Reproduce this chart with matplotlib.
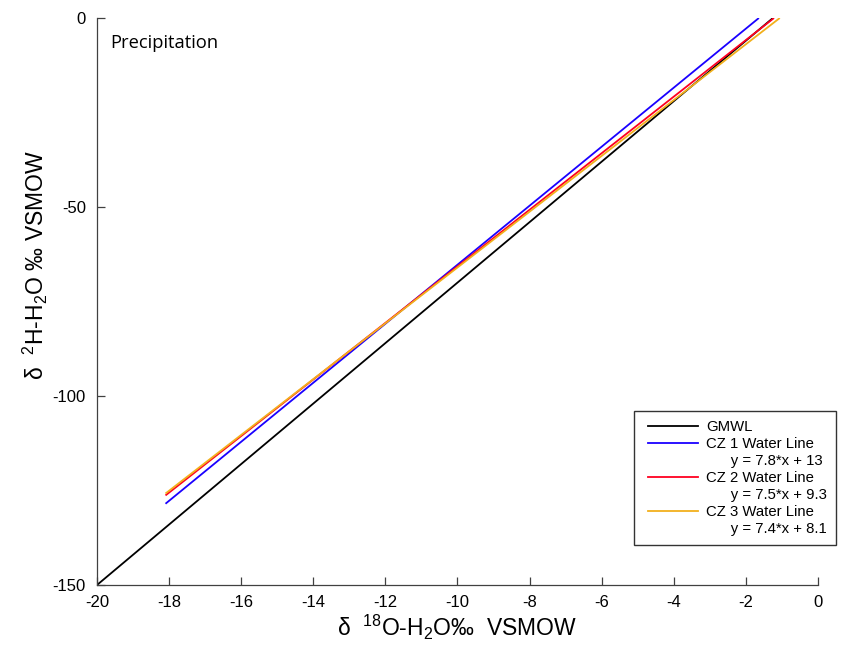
import matplotlib
matplotlib.use("Agg")
import matplotlib.pyplot as plt
from matplotlib.lines import Line2D
from matplotlib.legend_handler import HandlerLine2D

plt.rcParams['font.family'] = ['Liberation Sans', 'DejaVu Sans']
plt.rcParams['mathtext.fontset'] = 'custom'
plt.rcParams['mathtext.rm'] = 'Liberation Sans'
plt.rcParams['mathtext.it'] = 'Liberation Sans'

# Line endpoints
gmwl_x = [-20.0, -1.25]
gmwl_y = [-150.0, 0.0]
cz1_x = [-18.1, -1.64]
cz1_y = [-128.5, 0.0]
cz2_x = [-18.1, -1.22]
cz2_y = [-126.3, 0.0]
cz3_x = [-18.1, -1.06]
cz3_y = [-125.8, 0.0]

series_names = ["GMWL", "CZ 1 Water Line", "CZ 2 Water Line", "CZ 3 Water Line"]
equations = [None, "y = 7.8*x + 13", "y = 7.5*x + 9.3", "y = 7.4*x + 8.1"]
colors = ["black", "#1a00ff", "#ff0020", "#f2b01c"]

x_ticks = [-20, -18, -16, -14, -12, -10, -8, -6, -4, -2, 0]
y_ticks = [-150, -100, -50, 0]

fig = plt.figure(figsize=(8.41, 6.54), dpi=100)
ax = fig.add_axes([97/841, 1-585/654, (818-97)/841, (585-18)/654])

xs = [gmwl_x, cz1_x, cz2_x, cz3_x]
ys = [gmwl_y, cz1_y, cz2_y, cz3_y]
for x, y, c in zip(xs, ys, colors):
    ax.plot(x, y, color=c, lw=1.3, solid_capstyle='butt')

ax.set_xlim(-20, 0)
ax.set_ylim(-150, 0)
ax.set_xticks(x_ticks)
ax.set_yticks(y_ticks)
ax.set_xticklabels([str(t) for t in x_ticks])
ax.set_yticklabels([str(t) for t in y_ticks])
for s in ['top', 'right']:
    ax.spines[s].set_visible(False)
for s in ['left', 'bottom']:
    ax.spines[s].set_color('#404040')
    ax.spines[s].set_linewidth(0.9)
ax.tick_params(direction='in', length=6, width=0.9, color='#404040',
               labelsize=12, pad=8)
ax.tick_params(axis='x', pad=7)

ax.set_xlabel(r'$\delta$  $^{18}$O-H$_2$O‰  VSMOW', fontsize=16.5)
ax.xaxis.set_label_coords(0.5, -0.05)
ax.set_ylabel(r'$\delta$  $^{2}$H-H$_2$O ‰ VSMOW', fontsize=16.5)
ax.yaxis.set_label_coords(-0.065, 0.564)

ax.text(110/841, 1-43/654, "Precipitation", transform=fig.transFigure,
        fontsize=13.2, va='center', ha='left', family=['Open Sans', 'DejaVu Sans'])

handles = []
labels = []
for name, eq, c in zip(series_names, equations, colors):
    handles.append(Line2D([], [], color=c, lw=1.3))
    labels.append(name)
    if eq is not None:
        handles.append(Line2D([], [], color='none'))
        labels.append("      " + eq)

leg = fig.legend(handles, labels, loc='lower left',
                 bbox_to_anchor=(634/841, 1-545/654), fontsize=10.7,
                 frameon=True, fancybox=False, edgecolor='black',
                 handlelength=3.71, handletextpad=0.53, labelspacing=0.2,
                 borderpad=0.6, borderaxespad=0,
                 handler_map={Line2D: HandlerLine2D(xpad=0.35)})
leg.get_frame().set_linewidth(1.0)

fig.savefig("out.png", dpi=100)
